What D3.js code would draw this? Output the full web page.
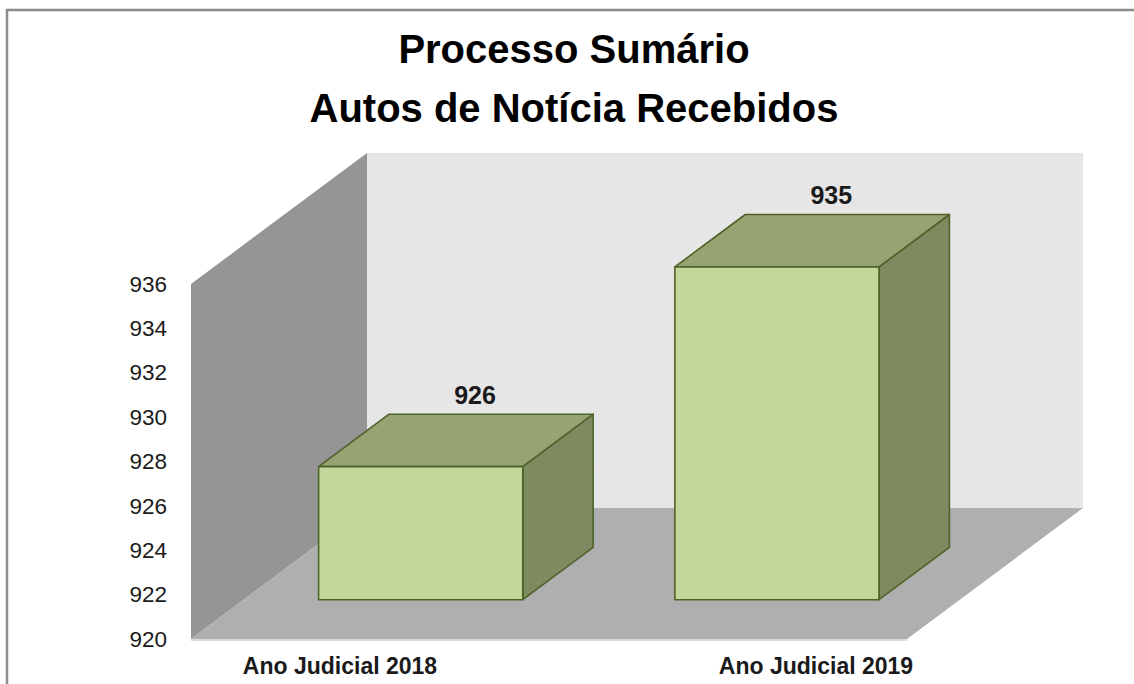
<!DOCTYPE html>
<html>
<head>
<meta charset="utf-8">
<script src="https://cdn.jsdelivr.net/npm/d3@7"></script>
<style>
  html, body { margin: 0; padding: 0; background: #ffffff; }
  svg { display: block; }
</style>
</head>
<body>
<svg id="chart" width="1134" height="684"></svg>
<script>
// Chart data
const titleLines = ["Processo Sumário", "Autos de Notícia Recebidos"];
const categories = ["Ano Judicial 2018", "Ano Judicial 2019"];
const values = [926, 935];
const yTicks = [920, 922, 924, 926, 928, 930, 932, 934, 936];

const svg = d3.select("#chart");
const W = 1134, H = 684;

// Plot geometry (front plane of the 3D box and its depth offset)
const plot = { left: 191, right: 907, bottom: 639, top: 284 };
const depth = { dx: 176, dy: -131 };
const barDepthFront = 0.3, barDepthBack = 0.7;

const x = d3.scaleBand()
  .domain(categories)
  .range([plot.left, plot.right - 6])
  .paddingInner(0.427)
  .paddingOuter(0.21);

const y = d3.scaleLinear()
  .domain([yTicks[0], yTicks[yTicks.length - 1]])
  .range([plot.bottom, plot.top]);

const labelX = d3.scalePoint()
  .domain(categories)
  .range([340, 816]);

const off = f => [depth.dx * f, depth.dy * f];
const pts = arr => arr.map(p => p.join(",")).join(" ");

// Outer chart frame
svg.append("path")
  .attr("d", `M7,${H} L7,10 L${W},10`)
  .attr("fill", "none")
  .attr("stroke", "#8c8c8c")
  .attr("stroke-width", 2.5);

// Walls and floor
const y0 = y.range()[0], y1 = y.range()[1];
const [bx, by] = off(1);
svg.append("polygon") // back wall
  .attr("points", pts([[plot.left + bx, y1 + by], [plot.right + bx, y1 + by], [plot.right + bx, y0 + by], [plot.left + bx, y0 + by]]))
  .attr("fill", "#e6e6e6");
svg.append("polygon") // side wall
  .attr("points", pts([[plot.left, y1], [plot.left + bx, y1 + by], [plot.left + bx, y0 + by], [plot.left, y0]]))
  .attr("fill", "#959595");
svg.append("polygon") // floor
  .attr("points", pts([[plot.left, y0], [plot.right, y0], [plot.right + bx, y0 + by], [plot.left + bx, y0 + by]]))
  .attr("fill", "#afafaf");
svg.append("line")
  .attr("x1", plot.left).attr("x2", plot.right)
  .attr("y1", y0 + 1).attr("y2", y0 + 1)
  .attr("stroke", "#cfcfcf").attr("stroke-width", 1.5);

// Y axis labels
const yAxis = d3.axisLeft(y)
  .tickValues(yTicks)
  .tickSize(0)
  .tickPadding(24)
  .tickFormat(d3.format("d"));
const gy = svg.append("g")
  .attr("transform", `translate(${plot.left},0)`)
  .call(yAxis);
gy.select(".domain").remove();
gy.selectAll("text")
  .attr("font-family", "'Liberation Sans', Arial, sans-serif")
  .attr("font-size", 22.5)
  .attr("fill", "#1a1a1a");

// 3D bars
const [fdx, fdy] = off(barDepthFront);
const [kdx, kdy] = off(barDepthBack);
const bars = svg.append("g").selectAll("g")
  .data(categories.map((c, i) => ({ c, v: values[i] })))
  .join("g");

bars.each(function(d) {
  const g = d3.select(this);
  const xl = x(d.c) + fdx, xr = x(d.c) + x.bandwidth() + fdx;
  const yt = y(d.v) + fdy, yb = y(yTicks[0]) + fdy;
  const ddx = kdx - fdx, ddy = kdy - fdy;
  const stroke = { stroke: "#4f6228", "stroke-width": 1.6, "stroke-linejoin": "round" };
  const face = (p, fill) => {
    const s = g.append("polygon").attr("points", pts(p)).attr("fill", fill);
    Object.entries(stroke).forEach(([k, v]) => s.attr(k, v));
  };
  face([[xr, yt], [xr + ddx, yt + ddy], [xr + ddx, yb + ddy], [xr, yb]], "#7e8b61");
  face([[xl, yt], [xl + ddx, yt + ddy], [xr + ddx, yt + ddy], [xr, yt]], "#97a372");
  face([[xl, yt], [xr, yt], [xr, yb], [xl, yb]], "#c4d79b");

  // value label above the top face
  g.append("text")
    .attr("x", (xl + xr) / 2 + ddx - 16)
    .attr("y", yt + ddy - 10)
    .attr("text-anchor", "middle")
    .attr("font-family", "'Liberation Sans', Arial, sans-serif")
    .attr("font-weight", "bold")
    .attr("font-size", 25)
    .attr("fill", "#1a1a1a")
    .text(d3.format("d")(d.v));
});

// Category labels
svg.append("g").selectAll("text")
  .data(categories)
  .join("text")
  .attr("x", d => labelX(d))
  .attr("y", 674)
  .attr("text-anchor", "middle")
  .attr("font-family", "'Liberation Sans', Arial, sans-serif")
  .attr("font-weight", "bold")
  .attr("font-size", 23)
  .attr("fill", "#1a1a1a")
  .text(d => d);

// Title
svg.append("g").selectAll("text")
  .data(titleLines)
  .join("text")
  .attr("x", 574)
  .attr("y", (d, i) => 63 + i * 59)
  .attr("text-anchor", "middle")
  .attr("font-family", "'Liberation Sans', Arial, sans-serif")
  .attr("font-weight", "bold")
  .attr("font-size", 40)
  .attr("fill", "#000000")
  .text(d => d);
</script>
</body>
</html>
